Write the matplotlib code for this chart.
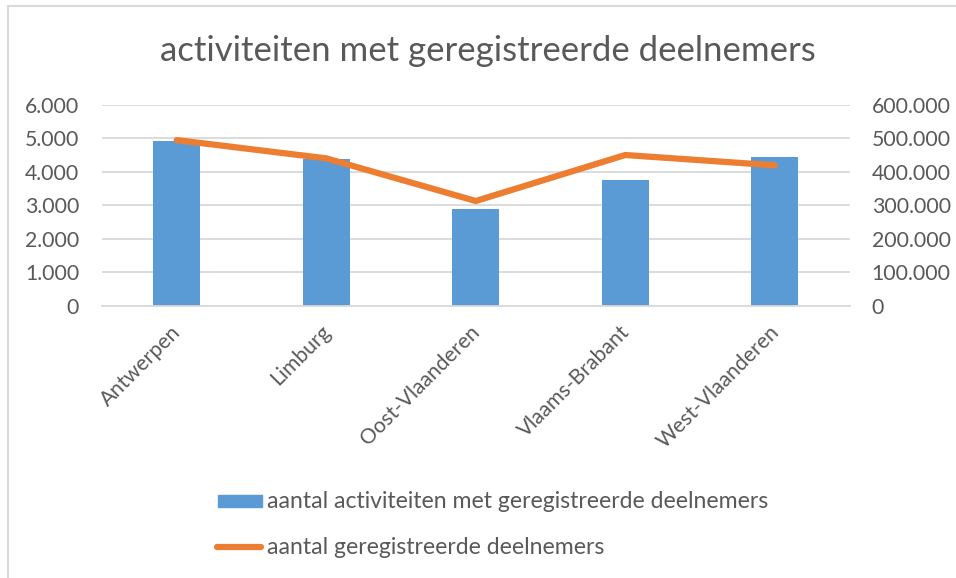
import numpy as np
import matplotlib.pyplot as plt
import matplotlib.transforms as mtransforms
from matplotlib.ticker import FuncFormatter
from matplotlib.lines import Line2D
from matplotlib.patches import Rectangle

# data
provincies = ["Antwerpen", "Limburg", "Oost-Vlaanderen", "Vlaams-Brabant", "West-Vlaanderen"]
activiteiten = [4910, 4385, 2880, 3770, 4445]           # left axis (bars)
deelnemers = [495000, 440500, 313000, 450500, 419600]   # right axis (line)
legend_labels = ["aantal activiteiten met geregistreerde deelnemers", "aantal geregistreerde deelnemers"]

BLUE = "#5B9BD5"
ORANGE = "#ED7D31"
TXT = "#595959"
GRID = "#D9D9D9"

plt.rcParams["font.family"] = ["Lato", "DejaVu Sans"]

W, H = 956, 578
fig = plt.figure(figsize=(W / 100, H / 100), dpi=100)

def fx(px):
    return px / W

def fy(py):
    return 1 - py / H

# chart area border (only top and left visible in the crop)
fig.add_artist(Line2D([fx(8), fx(8)], [0, fy(6)], color=GRID, lw=1.5))
fig.add_artist(Line2D([fx(8), 1], [fy(6), fy(6)], color=GRID, lw=1.5))

# plot area in pixels
left, right, top, bottom = 102, 849.5, 105, 305.7
ax = fig.add_axes([fx(left), fy(bottom), (right - left) / W, (bottom - top) / H])

x = np.arange(len(provincies))
ax.bar(x, activiteiten, width=0.314, color=BLUE, zorder=2)
ax.set_xlim(-0.5, len(provincies) - 0.5)
ax.set_ylim(0, 6000)
ax.set_yticks(np.arange(0, 6001, 1000))
ax.yaxis.grid(True, color=GRID, lw=1.3, zorder=0)
ax.set_axisbelow(True)

dots = FuncFormatter(lambda v, p: f"{int(v):,}".replace(",", "."))
ax.yaxis.set_major_formatter(dots)
ax.tick_params(axis="y", length=0, pad=16.5, labelsize=15.3, labelcolor=TXT)
ax.set_xticks(x)
ax.set_xticklabels(provincies, rotation=45, ha="right", rotation_mode="anchor")
ax.tick_params(axis="x", length=0, pad=11.5, labelsize=15.2, labelcolor=TXT)
# nudge the rotated category labels a little to the left
shift = mtransforms.ScaledTranslation(-6 / 100, 0, fig.dpi_scale_trans)
for lab in ax.get_xticklabels():
    lab.set_transform(lab.get_transform() + shift)
for s in ax.spines.values():
    s.set_visible(False)
ax.spines["bottom"].set_visible(True)
ax.spines["bottom"].set_color(GRID)
ax.spines["bottom"].set_linewidth(1.3)

ax2 = ax.twinx()
ax2.plot(x, deelnemers, color=ORANGE, lw=4.5, solid_capstyle="round", zorder=3)
ax2.set_ylim(0, 600000)
ax2.set_yticks(np.arange(0, 600001, 100000))
ax2.yaxis.set_major_formatter(dots)
ax2.tick_params(axis="y", length=0, pad=16, labelsize=15.3, labelcolor=TXT)
for s in ax2.spines.values():
    s.set_visible(False)

fig.text(fx(488), fy(51), "activiteiten met geregistreerde deelnemers",
         ha="center", va="center", fontsize=25, color=TXT)

# legend below the plot
fig.add_artist(Rectangle((fx(218), fy(507)), fx(44), 12 / H, color=BLUE, transform=fig.transFigure))
fig.text(fx(267), fy(501), legend_labels[0], ha="left", va="center", fontsize=16.6, color=TXT)
fig.add_artist(Line2D([fx(217), fx(261)], [fy(547), fy(547)], color=ORANGE, lw=4.5,
                      solid_capstyle="round"))
fig.text(fx(267), fy(547), legend_labels[1], ha="left", va="center", fontsize=16.6, color=TXT)

fig.savefig("out.png", dpi=100)
